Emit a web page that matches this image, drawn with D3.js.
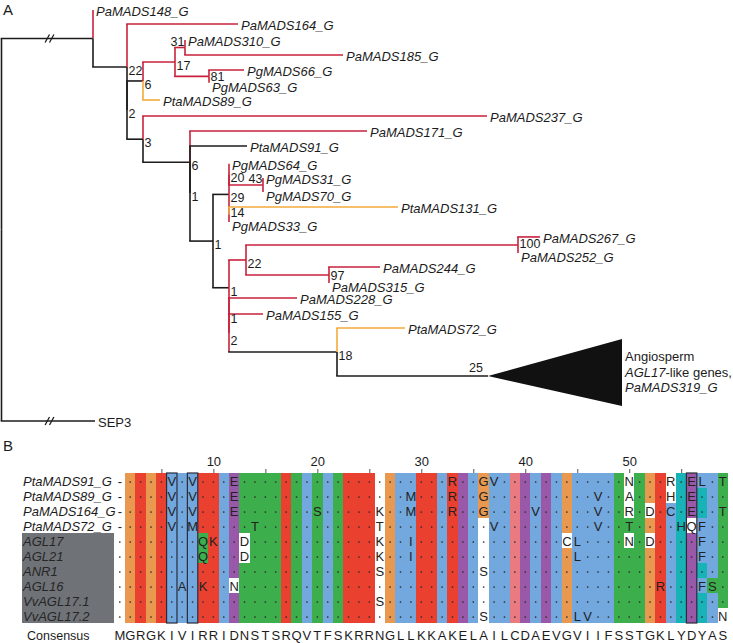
<!DOCTYPE html>
<html><head><meta charset="utf-8">
<script src="https://cdn.jsdelivr.net/npm/d3@7"></script>
<style>
html,body{margin:0;padding:0;background:#fff;}
svg{display:block;font-family:"Liberation Sans",Arial,Helvetica,sans-serif;}
</style></head><body>
<svg id="chart" width="733" height="643"></svg>
<script>
// ================= DATA =================
// Panel A tree: [node id, parent id, branch length, lineage group, bootstrap support]
const treeEdges = [
  ["root", "", 0, "k", null],
  ["N1", "root", 0.915, "k", null],
  ["SEP3", "root", 0.935, "k", null],
  ["PaMADS148_G", "N1", 0, "r", null],
  ["N2a", "N1", 0.34, "k", 22],
  ["PaMADS164_G", "N2a", 1.11, "r", null],
  ["N2b", "N2a", 0, "k", 2],
  ["N6", "N2b", 0.16, "k", 6],
  ["N17", "N6", 0.32, "r", 17],
  ["N31", "N17", 0.10, "r", 31],
  ["PaMADS310_G", "N31", 0, "r", null],
  ["PaMADS185_G", "N31", 1.58, "r", null],
  ["N81", "N17", 0.34, "r", 81],
  ["PgMADS66_G", "N81", 0.35, "r", null],
  ["PgMADS63_G", "N81", 0, "r", null],
  ["PtaMADS89_G", "N6", 0.17, "o", null],
  ["N3", "N2b", 0.16, "k", 3],
  ["PaMADS237_G", "N3", 3.44, "r", null],
  ["N6b", "N3", 0.47, "k", 6],
  ["PaMADS171_G", "N6b", 1.77, "r", null],
  ["N1c", "N6b", 0, "k", 1],
  ["PtaMADS91_G", "N1c", 0.57, "k", null],
  ["N1b", "N1c", 0.23, "k", 1],
  ["N29", "N1b", 0.16, "k", 29],
  ["N20", "N29", 0, "r", 20],
  ["PgMADS64_G", "N20", 0, "r", null],
  ["N43", "N20", 0.34, "r", 43],
  ["PgMADS31_G", "N43", 0, "r", null],
  ["PgMADS70_G", "N43", 0, "r", null],
  ["N14", "N29", 0, "r", 14],
  ["PtaMADS131_G", "N14", 1.69, "o", null],
  ["PgMADS33_G", "N14", 0, "r", null],
  ["NB", "N1b", 0.16, "k", 1],
  ["N22", "NB", 0.17, "r", 22],
  ["N100", "N22", 2.72, "r", 100],
  ["PaMADS267_G", "N100", 0.22, "r", null],
  ["PaMADS252_G", "N100", 0, "r", null],
  ["N97", "N22", 0.83, "r", 97],
  ["PaMADS244_G", "N97", 0.51, "r", null],
  ["PaMADS315_G", "N97", 0, "r", null],
  ["NC", "NB", 0, "r", 1],
  ["PaMADS228_G", "NC", 0.68, "r", null],
  ["ND", "NC", 0, "r", 2],
  ["PaMADS155_G", "ND", 0.34, "r", null],
  ["N18", "ND", 1.08, "k", 18],
  ["PtaMADS72_G", "N18", 0.68, "o", null],
  ["AGL17clade", "N18", 1.51, "k", 25]
];
// vertical connector drawn in a different lineage colour than the branch
const verticalGroup = [["N18", "r"]];
// leaf order (row units, top to bottom)
const leafRows = [
  ["PaMADS148_G", 0], ["PaMADS164_G", 0.93], ["PaMADS310_G", 2], ["PaMADS185_G", 3],
  ["PgMADS66_G", 4], ["PgMADS63_G", 4.85], ["PtaMADS89_G", 6], ["PaMADS237_G", 7.07],
  ["PaMADS171_G", 8.07], ["PtaMADS91_G", 9.07], ["PgMADS64_G", 10.25], ["PgMADS31_G", 11.2],
  ["PgMADS70_G", 12.13], ["PtaMADS131_G", 13.13], ["PgMADS33_G", 14.13], ["PaMADS267_G", 15.13],
  ["PaMADS252_G", 16.2], ["PaMADS244_G", 17.13], ["PaMADS315_G", 18.2], ["PaMADS228_G", 19.2],
  ["PaMADS155_G", 20.27], ["PtaMADS72_G", 21.2], ["AGL17clade", 24.4], ["SEP3", 27.4]
];
const collapsedClade = { id: "AGL17clade", length: 1.34, rows: [21.93, 26.4],
  lines: [["Angiosperm", ""], ["AGL17", "-like genes,"], ["PaMADS319_G", ""]] };
const brokenBranches = ["N1", "SEP3"];
const breakAt = 0.48;
const supportLeft = ["N31", "N43", "AGL17clade"];
const supportNudge = [["N14", -5.5], ["N81", -3.5], ["N100", -4.5], ["N97", -3], ["ND", 4]];

// Panel B alignment
const seqNames = ["PtaMADS91_G", "PtaMADS89_G", "PaMADS164_G", "PtaMADS72_G",
  "AGL17", "AGL21", "ANR1", "AGL16", "VvAGL17.1", "VvAGL17.2"];
const shadedFrom = 4;
// '.' identical to consensus, uppercase = coloured residue, lowercase = residue on white
const seqRows = [
  "-....V.V.." + ".E........" + ".........." + "..R..GV..." + ".........n" + "...r.EL.T",
  "-....V.V.." + ".E........" + "........M." + "..R..G...." + "......V..a" + "...h.E...",
  "-....V.V.." + ".E.......S" + ".....k..M." + "..R..G...." + "V.....V..r" + ".d.C.E..T",
  "-....V.M.." + "...T......" + ".....t...." + "......V..." + "......V..T" + "....HqF..",
  "........QK" + "..d......." + ".....k..I." + ".........." + "...cL....n" + ".d....F..",
  "........Q." + "..d......." + ".....k..I." + ".........." + "....L....." + "......F..",
  ".........." + ".........." + ".....s...." + ".....s...." + ".........." + ".........",
  "......A.K." + ".n........" + ".........." + ".........." + ".........." + "..R...FS.",
  ".........." + ".........." + ".....s...." + ".........." + ".........." + ".........",
  ".........." + ".........." + ".........." + ".....s...." + "....LV...." + "........n"
];
const consensus = "MGRGKIVIRRIDNSTSRQVTFSKRRNGLLKKAKELAILCDAEVGVIIFSSTGKLYDYAS";
const columnGroups = "w" + "oror" + "bbb" + "rr" + "b" + "p" + "gggg" + "r" + "g" + "b" + "g" + "b" + "g" +
  "rrr" + "w" + "o" + "bb" + "rr" + "b" + "r" + "p" + "b" + "w" + "bb" + "k" + "p" + "b" + "p" + "b" + "o" +
  "bbbb" + "ggg" + "o" + "r" + "b" + "c" + "p" + "c" + "b" + "g";
const boxedColumns = [6, 8, 56];
const axisTicks = [5, 10, 15, 20, 25, 30, 35, 40, 45, 50, 55];

// ================= STYLE =================
const lineColor = { r: "#c9213d", o: "#f3aa3a", k: "#1c1c1c" };
const cellColor = { b: "#72a8de", r: "#ea4030", o: "#e9984f", p: "#9a59a8", g: "#3dae4c",
  c: "#17b3b6", k: "#e97b80", y: "#f0d040", w: "#ffffff" };
const residueGroup = { A: "b", I: "b", L: "b", M: "b", F: "b", V: "b", W: "b", C: "b",
  K: "r", R: "r", E: "p", D: "p", N: "g", Q: "g", S: "g", T: "g", G: "o", H: "c", Y: "c", P: "y" };

const svg = d3.select("#chart");
const txt = "#1c1c1c";

// ================= PANEL A =================
svg.append("text").attr("x", 3).attr("y", 15).attr("font-size", 15).attr("fill", txt).text("A");

const tx = d3.scaleLinear().domain([0, 1]).range([1.5, 101.5]);
const ty = d3.scaleLinear().domain([0, 1]).range([10, 25]);

const root = d3.stratify().id(d => d[0]).parentId(d => d[1] || null)(treeEdges);
const rowMap = new Map(leafRows);
const vMap = new Map(verticalGroup);
const nudge = new Map(supportNudge);
root.eachBefore(n => { n.len = n.parent ? n.parent.len + n.data[2] : 0; });
root.eachAfter(n => { n.row = n.children ? d3.mean(n.children, c => c.row) : rowMap.get(n.id); });
root.each(n => { n.px = tx(n.len); n.py = ty(n.row); });

const gTree = svg.append("g");
root.eachBefore(n => {
  if (!n.parent) return;
  const p = n.parent;
  const g = n.data[3];
  const vg = vMap.get(n.id) || g;
  gTree.append("path")
    .attr("d", `M${p.px},${p.py}V${n.py}`)
    .attr("fill", "none").attr("stroke", lineColor[vg]).attr("stroke-width", 1.6);
  if (n.px > p.px) {
    gTree.append("path")
      .attr("d", `M${p.px - 0.8},${n.py}H${n.px}`)
      .attr("fill", "none").attr("stroke", lineColor[g]).attr("stroke-width", 1.6);
  }
});

// break marks
brokenBranches.forEach(id => {
  const n = root.find(d => d.id === id);
  const bx = tx(breakAt);
  [-2.2, 2.2].forEach(o => {
    gTree.append("line")
      .attr("x1", bx + o - 2.2).attr("y1", n.py + 4)
      .attr("x2", bx + o + 2.2).attr("y2", n.py - 4)
      .attr("stroke", lineColor.k).attr("stroke-width", 1.3);
  });
});

// collapsed clade triangle
const cl = root.find(d => d.id === collapsedClade.id);
const triEnd = tx(cl.len + collapsedClade.length);
gTree.append("path")
  .attr("d", `M${cl.px},${cl.py}L${triEnd},${ty(collapsedClade.rows[0])}L${triEnd},${ty(collapsedClade.rows[1])}Z`)
  .attr("fill", "#111");
const triMid = (ty(collapsedClade.rows[0]) + ty(collapsedClade.rows[1])) / 2;
collapsedClade.lines.forEach((ln, i) => {
  const t = gTree.append("text").attr("font-size", 13).attr("fill", txt)
    .attr("x", triEnd + 3).attr("y", triMid - 16 + i * 15.5 + 4.6);
  if (ln[0] === "Angiosperm") { t.text(ln[0]); }
  else {
    t.append("tspan").attr("font-style", "italic").text(ln[0]);
    if (ln[1]) t.append("tspan").text(ln[1]);
  }
});

// leaf labels
root.leaves().forEach(n => {
  if (n.id === collapsedClade.id) return;
  const zero = n.data[2] === 0;
  const below = zero && n.py > n.parent.py;
  const cy = n.py + (below ? 4.3 : 1.3);
  gTree.append("text")
    .attr("x", n.px + 3).attr("y", cy).attr("dy", "0.35em")
    .attr("font-size", 13)
    .attr("font-style", n.id === "SEP3" ? "normal" : "italic")
    .attr("fill", txt)
    .text(n.id);
});

// bootstrap supports
root.descendants().forEach(n => {
  const s = n.data[4];
  if (s === null || s === undefined) return;
  const left = supportLeft.includes(n.id);
  const isClade = n.id === collapsedClade.id;
  gTree.append("text")
    .attr("x", left ? n.px - (isClade ? 5 : 0.5) : n.px + 1.5)
    .attr("y", (left ? n.py - (isClade ? 8 : 6) : n.py + 3.5) + (nudge.get(n.id) || 0))
    .attr("dy", "0.35em")
    .attr("text-anchor", left ? "end" : "start")
    .attr("font-size", 12.5).attr("fill", txt)
    .text(s);
});

// ================= PANEL B =================
svg.append("text").attr("x", 3).attr("y", 451).attr("font-size", 15).attr("fill", txt).text("B");

const xA = d3.scaleLinear().domain([1.5, consensus.length + 0.5]).range([125, 728]);
const yA = d3.scaleBand().domain(d3.range(seqNames.length)).range([473, 623]);
const colW = xA(2) - xA(1);

const gAl = svg.append("g");
// shaded name block
gAl.append("rect")
  .attr("x", 22).attr("y", yA(shadedFrom))
  .attr("width", 92).attr("height", yA.bandwidth() * (seqNames.length - shadedFrom))
  .attr("fill", "#6f7377");

seqNames.forEach((name, i) => {
  const cy = yA(i) + yA.bandwidth() / 2;
  gAl.append("text").attr("x", 23).attr("y", cy + 1).attr("dy", "0.35em")
    .attr("font-size", 13).attr("font-style", "italic")
    .attr("fill", i >= shadedFrom ? "#262626" : txt).text(name);
});

// cells
seqRows.forEach((row, i) => {
  const y0 = yA(i), h = yA.bandwidth();
  for (let p = 2; p <= consensus.length; p++) {
    const ch = row[p - 1];
    let fill;
    if (ch === ".") fill = cellColor[columnGroups[p - 1]];
    else if (ch === "-") fill = null;
    else if (ch === ch.toLowerCase()) fill = cellColor.w;
    else fill = cellColor[residueGroup[ch]];
    if (fill) {
      gAl.append("rect").attr("x", xA(p - 0.5)).attr("y", y0).attr("width", colW + 0.3).attr("height", h + 0.3)
        .attr("fill", fill).attr("shape-rendering", "crispEdges");
    }
  }
});
seqRows.forEach((row, i) => {
  const cy = yA(i) + yA.bandwidth() / 2;
  for (let p = 1; p <= consensus.length; p++) {
    const ch = row[p - 1];
    if (ch === ".") {
      gAl.append("circle").attr("cx", xA(p)).attr("cy", cy + 1.5).attr("r", 0.85).attr("fill", "#2a2a2a");
    } else {
      gAl.append("text").attr("x", xA(p)).attr("y", cy + 1).attr("dy", "0.35em")
        .attr("text-anchor", "middle").attr("font-size", 13).attr("fill", "#222")
        .text(ch.toUpperCase());
    }
  }
});

// boxed columns
boxedColumns.forEach(p => {
  gAl.append("rect").attr("x", xA(p - 0.5)).attr("y", yA(0))
    .attr("width", colW).attr("height", yA.bandwidth() * seqNames.length)
    .attr("fill", "none").attr("stroke", "#2b2b3a").attr("stroke-width", 1.2);
});

// top axis
const ax = d3.axisTop(xA).tickValues(axisTicks).tickSize(4).tickPadding(3)
  .tickFormat(d => d % 10 === 0 ? d : "");
const gAx = gAl.append("g").attr("transform", `translate(0,${yA(0)})`).call(ax);
gAx.select(".domain").remove();
gAx.selectAll(".tick line").attr("stroke", "#555");
gAx.selectAll("text").attr("font-size", 13).attr("fill", txt)
  .attr("font-family", "Liberation Sans, Arial, sans-serif");

// consensus
gAl.append("text").attr("x", 27).attr("y", 640).attr("font-size", 12.5).attr("fill", txt).text("Consensus");
consensus.split("").forEach((c, k) => {
  gAl.append("text").attr("x", xA(k + 1)).attr("y", 640).attr("text-anchor", "middle")
    .attr("font-size", 13).attr("fill", txt).text(c);
});
</script>
</body></html>
